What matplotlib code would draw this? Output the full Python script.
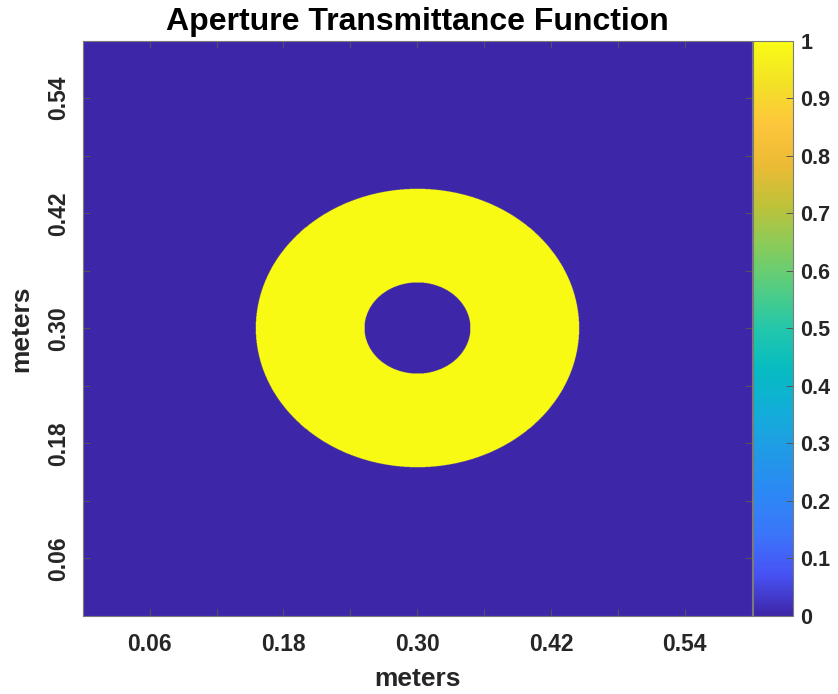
import numpy as np
import matplotlib.pyplot as plt
from matplotlib.colors import LinearSegmentedColormap

# Aperture geometry (meters)
side = 0.6
n_samples = 1800
center = (0.30, 0.30)
outer_radius = 0.145
inner_radius = 0.0475

xticks = [0.06, 0.12, 0.18, 0.24, 0.30, 0.36, 0.42, 0.48, 0.54]
xtick_labels = ["0.06", "", "0.18", "", "0.30", "", "0.42", "", "0.54"]
cbar_ticks = [0, 0.1, 0.2, 0.3, 0.4, 0.5, 0.6, 0.7, 0.8, 0.9, 1]
cbar_labels = ["0", "0.1", "0.2", "0.3", "0.4", "0.5", "0.6", "0.7", "0.8", "0.9", "1"]

# parula-like colormap
parula_rgb = [
    (0.2422, 0.1504, 0.6603),
    (0.2810, 0.3228, 0.9579),
    (0.2305, 0.4620, 0.9778),
    (0.1707, 0.5350, 0.9633),
    (0.1253, 0.6090, 0.9007),
    (0.0710, 0.6810, 0.8490),
    (0.0227, 0.7348, 0.7564),
    (0.1367, 0.7800, 0.6700),
    (0.3280, 0.8040, 0.5090),
    (0.5340, 0.8000, 0.3550),
    (0.7450, 0.7610, 0.2230),
    (0.9280, 0.7310, 0.2060),
    (0.9940, 0.7740, 0.2330),
    (0.9530, 0.8860, 0.1470),
    (0.9769, 0.9839, 0.0805),
]
parula = LinearSegmentedColormap.from_list("parula", parula_rgb, N=256)

# Transmittance: 1 inside the annulus, 0 elsewhere
coords = (np.arange(n_samples) + 0.5) * side / n_samples
xx, yy = np.meshgrid(coords, coords)
rr = np.hypot(xx - center[0], yy - center[1])
aperture = ((rr <= outer_radius) & (rr >= inner_radius)).astype(float)

plt.rcParams["font.family"] = ["Liberation Sans", "DejaVu Sans"]
plt.rcParams["font.weight"] = "bold"

fig = plt.figure(figsize=(8.38, 6.94), dpi=100)
ax = fig.add_axes([0.0987, 0.1124, 0.7983, 0.829])
cax = fig.add_axes([0.8986, 0.1124, 0.0474, 0.829])

im = ax.imshow(aperture, cmap=parula, vmin=0, vmax=1, origin="lower",
               extent=[0, side, 0, side], aspect="auto",
               interpolation="antialiased")

tick_color = "#262626"
ax.set_xticks(xticks)
ax.set_xticklabels(xtick_labels)
ax.set_yticks(xticks)
ax.set_yticklabels(xtick_labels, rotation=90, va="center")
ax.tick_params(direction="in", length=5, width=0.7, color="#555555",
               labelcolor=tick_color, labelsize=16.5, top=True, right=True)
ax.tick_params(axis="x", pad=12)
ax.tick_params(axis="y", pad=9)
for sp in ax.spines.values():
    sp.set_color("#7a7a7a")
    sp.set_linewidth(0.8)

ax.set_xlabel("meters", fontsize=19, fontweight="bold", color=tick_color, labelpad=8)
ax.set_ylabel("meters", fontsize=19, fontweight="bold", color=tick_color, labelpad=10)
ax.set_title("Aperture Transmittance Function", fontsize=23, fontweight="bold",
             color="black", pad=8)

cb = fig.colorbar(im, cax=cax, ticks=cbar_ticks)
cb.ax.set_yticklabels(cbar_labels)
cb.ax.tick_params(direction="in", length=5, width=0.7, color="#555555",
                  labelcolor=tick_color, labelsize=15.5, pad=5.5)
cb.outline.set_edgecolor("#7a7a7a")
cb.outline.set_linewidth(0.8)

fig.savefig("out.png", dpi=100)
